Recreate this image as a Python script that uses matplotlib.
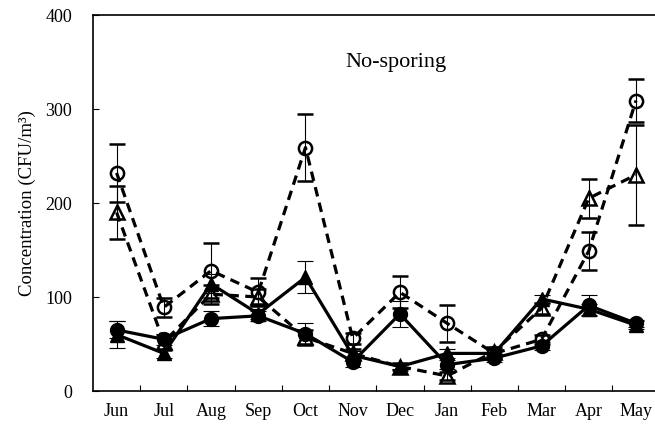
import matplotlib
matplotlib.use("Agg")
import matplotlib.pyplot as plt
import numpy as np

months = ["Jun", "Jul", "Aug", "Sep", "Oct", "Nov", "Dec", "Jan", "Feb", "Mar", "Apr", "May"]

open_circle = [232, 89, 128, 105, 259, 56, 105, 72, 40, 55, 149, 309]
open_circle_err = [31, 10, 29, 15, 36, 6, 17, 20, 5, 5, 20, 23]

open_triangle = [190, 52, 103, 100, 57, 40, 26, 16, 42, 88, 205, 230]
open_triangle_err = [28, 8, 10, 8, 8, 5, 4, 4, 5, 6, 21, 53]

filled_triangle = [60, 40, 114, 82, 121, 38, 26, 40, 40, 98, 87, 70]
filled_triangle_err = [14, 5, 10, 5, 17, 5, 3, 5, 4, 4, 6, 4]

filled_circle = [65, 55, 77, 80, 61, 31, 82, 28, 35, 48, 91, 72]
filled_circle_err = [9, 6, 8, 5, 11, 5, 14, 5, 4, 4, 11, 4]

plt.rcParams['font.family'] = ['Liberation Serif', 'DejaVu Serif']

fig = plt.figure(figsize=(6.55, 4.3), dpi=100)
ax = fig.add_axes([93/655, 39/430, 566.6/655, 376/430])

x = np.arange(len(months)) + 0.5

common_err = dict(ecolor='black', elinewidth=0.8, capsize=6, capthick=0.8)

ax.errorbar(x, open_circle, yerr=open_circle_err, fmt='o', ls=(0, (3.0, 2.0)), color='black',
            lw=2.3, ms=9.5, mfc='none', mec='black', mew=1.8, zorder=3, **common_err)
ax.errorbar(x, open_triangle, yerr=open_triangle_err, fmt='^', ls=(0, (3.0, 2.0)), color='black',
            lw=2.3, ms=9.5, mfc='none', mec='black', mew=1.8, zorder=3, **common_err)
ax.errorbar(x, filled_triangle, yerr=filled_triangle_err, fmt='^', ls='-', color='black',
            lw=2.3, ms=9.5, mfc='black', mec='black', zorder=4, **common_err)
ax.errorbar(x, filled_circle, yerr=filled_circle_err, fmt='o', ls='-', color='black',
            lw=2.3, ms=10, mfc='black', mec='black', zorder=4, **common_err)

ax.set_xlim(0, 12)
ax.set_ylim(0, 400)
ax.set_yticks([0, 100, 200, 300, 400])
ax.set_xticks(x)
ax.set_xticklabels(months)
ax.set_xticks(np.arange(1, 12), minor=True)
ax.tick_params(axis='x', which='major', length=0, pad=9, labelsize=13)
ax.tick_params(axis='x', which='minor', direction='in', length=4, width=0.8)
ax.tick_params(axis='y', which='major', direction='in', length=4, width=0.8, pad=15, labelsize=13)

for s in ['top', 'left', 'bottom', 'right']:
    ax.spines[s].set_linewidth(1.2)

ax.set_ylabel("Concentration (CFU/m³)", fontsize=13.5)
ax.yaxis.set_label_coords(-0.1, 0.5)

ax.text(6.42, 349, "No-sporing", ha='center', va='center', fontsize=16)

fig.savefig("out.png", dpi=100)
